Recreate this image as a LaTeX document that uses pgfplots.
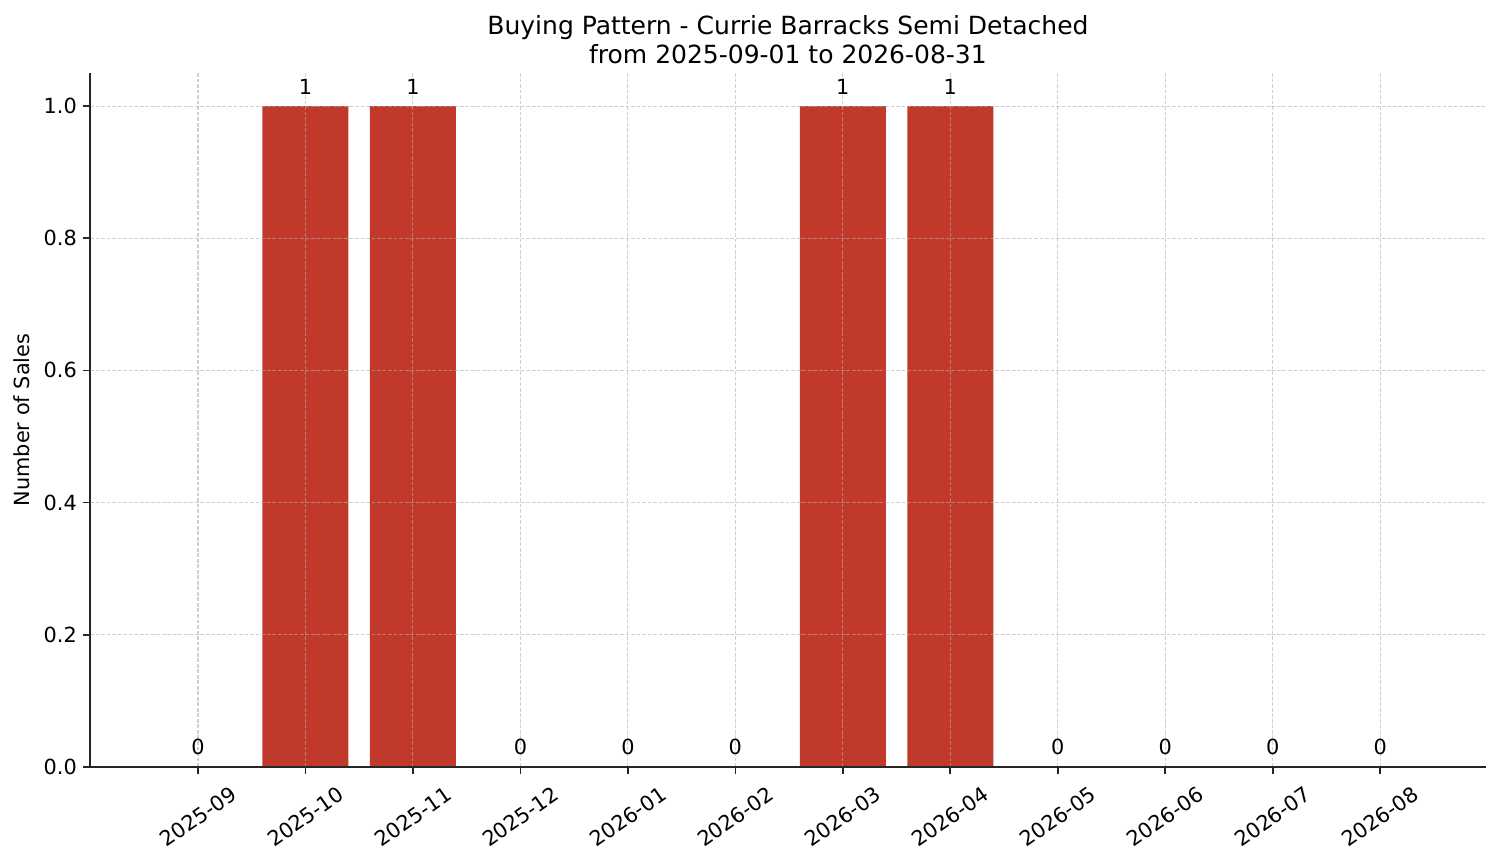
\documentclass[border=0pt]{standalone}
\usepackage{pgfplots}
\pgfplotsset{compat=1.18}
\usepackage{fontspec}
\setmainfont{DejaVu Sans}
\definecolor{barred}{RGB}{192,57,43}
\definecolor{gridc}{RGB}{176,176,176}
\definecolor{spine}{RGB}{38,38,38}
\begin{document}
\begin{tikzpicture}
\begin{axis}[
  scale only axis,
  width=670.1pt, height=333.1pt,
  xmin=-1.005, xmax=11.985,
  ymin=0, ymax=1.05,
  axis x line*=bottom, axis y line*=left,
  axis line style={spine, line width=0.8pt},
  axis on top,
  ybar, bar width=0.8,
  tick align=outside,
  major tick length=3.4pt,
  tick style={spine, line width=0.8pt},
  xtick={0,1,2,3,4,5,6,7,8,9,10,11},
  xticklabels={2025-09,2025-10,2025-11,2025-12,2026-01,2026-02,2026-03,2026-04,2026-05,2026-06,2026-07,2026-08},
  ytick={0,0.2,0.4,0.6,0.8,1.0},
  /pgf/number format/assume math mode=true,
  yticklabel={\pgfmathprintnumber[fixed,fixed zerofill,precision=1]{\tick}},
  ticklabel style={font=\fontsize{10}{12}\selectfont},
  xticklabel style={yshift=-20.5pt, rotate=35, anchor=center, inner sep=0pt},
  yticklabel style={anchor=east, inner sep=0pt, xshift=-2.7pt},
  grid=major,
  major grid style={gridc, opacity=0.6, line width=0.5pt, dash pattern=on 1.85pt off 0.8pt},
  ylabel={Number of Sales},
  ylabel style={font=\fontsize{10}{12}\selectfont, at={(axis description cs:-0.0430,0.5)}, anchor=base, rotate=0},
  title={Buying Pattern - Currie Barracks Semi Detached\\from 2025-09-01 to 2026-08-31},
  title style={font=\fontsize{12}{13.8}\selectfont, align=center, at={(axis description cs:0.5,1)}, anchor=south, inner sep=0pt, yshift=-1.8pt},
  nodes near coords,
  nodes near coords style={font=\fontsize{10}{12}\selectfont, anchor=south, inner sep=0pt, yshift=5.4pt, text=black},
  point meta=y,
  every node near coord/.append style={/pgf/number format/.cd, fixed, precision=0},
]
\addplot[fill=barred, draw=none] coordinates {
  (0,0) (1,1) (2,1) (3,0) (4,0) (5,0) (6,1) (7,1) (8,0) (9,0) (10,0) (11,0)
};
\coordinate (bbSW) at (axis description cs:-0.06447,-0.13833);
\coordinate (bbNE) at (axis description cs:1.01074,1.10519);
\end{axis}
\pgfresetboundingbox
\useasboundingbox (bbSW) rectangle (bbNE);
\end{tikzpicture}
\end{document}
